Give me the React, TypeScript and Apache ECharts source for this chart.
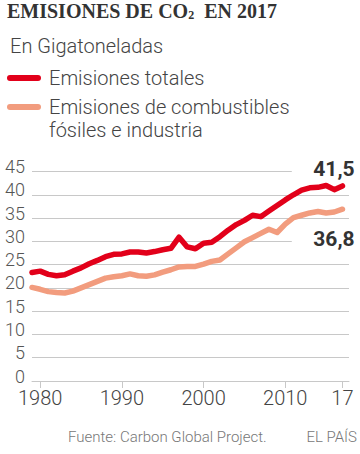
import React, { useEffect, useRef } from "react";
import * as echarts from "echarts";

const years = [
  1979, 1980, 1981, 1982, 1983, 1984, 1985, 1986, 1987, 1988, 1989, 1990, 1991,
  1992, 1993, 1994, 1995, 1996, 1997, 1998, 1999, 2000, 2001, 2002, 2003, 2004,
  2005, 2006, 2007, 2008, 2009, 2010, 2011, 2012, 2013, 2014, 2015, 2016, 2017,
];

const totalEmissions = [
  23.3, 23.6, 22.9, 22.6, 22.8, 23.6, 24.3, 25.2, 25.9, 26.7, 27.2, 27.3, 27.7,
  27.7, 27.5, 27.8, 28.2, 28.5, 30.9, 28.8, 28.4, 29.6, 29.8, 31.0, 32.4, 33.6,
  34.5, 35.6, 35.3, 36.5, 37.7, 38.9, 40.0, 41.0, 41.5, 41.6, 42.0, 41.1, 41.9,
];

const fossilEmissions = [
  20.1, 19.7, 19.2, 19.0, 18.9, 19.3, 20.0, 20.7, 21.4, 22.1, 22.4, 22.6, 23.0,
  22.6, 22.5, 22.8, 23.4, 23.9, 24.5, 24.6, 24.6, 25.1, 25.7, 26.0, 27.3, 28.6,
  29.9, 30.8, 31.7, 32.6, 31.9, 33.7, 35.1, 35.6, 36.1, 36.4, 36.1, 36.3, 36.9,
];

const xTickValues = [1980, 1990, 2000, 2010, 2017];
const yGridValues = [0, 5, 10, 15, 20, 25, 30, 35, 40, 45];
const shortGridValues = [30, 45];

const titleText = "EMISIONES DE CO";
const titleSub = "2";
const titleRest = "  EN 2017";
const subtitleText = "En Gigatoneladas";
const legendTotal = "Emisiones totales";
const legendFossil1 = "Emisiones de combustibles";
const legendFossil2 = "fósiles e industria";
const totalLabel = "41,5";
const fossilLabel = "36,8";
const sourceText = "Fuente: Carbon Global Project.";
const brandText = "EL PAÍS";

const RED = "#e2001a";
const SALMON = "#f29c7e";
const GRID = "#c8c8c8";
const SANS = "Roboto, 'Noto Sans', sans-serif";

const X_MIN = 1979;
const X_MAX = 2017.8;
const X_SHORT_END = 2010.8;

export default function App() {
  const ref = useRef<HTMLDivElement>(null);

  useEffect(() => {
    if (!ref.current) return;
    const chart = echarts.init(ref.current, null, { renderer: "svg" });

    const gridLines = yGridValues
      .filter((v) => v !== 0)
      .map((v) => [
        { coord: [X_MIN, v] },
        { coord: [shortGridValues.includes(v) ? X_SHORT_END : X_MAX, v] },
      ]);

    const option: any = {
      animation: false,
      backgroundColor: "#ffffff",
      grid: { left: 32, right: 11, top: 171.5, bottom: 73, containLabel: false },
      xAxis: {
        type: "value",
        min: X_MIN,
        max: X_MAX,
        axisLine: { show: true, lineStyle: { color: GRID, width: 1 } },
        axisTick: {
          show: true,
          customValues: xTickValues,
          length: 7,
          lineStyle: { color: GRID, width: 1 },
        },
        axisLabel: {
          customValues: xTickValues,
          formatter: (v: number) => (v === 2017 ? "17" : String(v)),
          fontFamily: SANS,
          fontWeight: 300,
          fontSize: 20,
          color: "#444",
          margin: 7,
        },
        splitLine: { show: false },
      },
      yAxis: {
        type: "value",
        min: 0,
        max: 45,
        interval: 5,
        axisLine: { show: false },
        axisTick: { show: false },
        splitLine: { show: false },
        axisLabel: {
          fontFamily: SANS,
          fontWeight: 300,
          fontSize: 18,
          color: "#555",
          margin: 7,
          verticalAlign: "bottom",
          lineHeight: 10,
        },
      },
      series: [
        {
          name: legendFossil1,
          type: "line",
          z: 3,
          showSymbol: false,
          data: years.map((y, i) => [y, fossilEmissions[i]]),
          lineStyle: { color: SALMON, width: 5.5, cap: "round", join: "round" },
          itemStyle: { color: SALMON },
          endLabel: {
            show: true,
            formatter: fossilLabel,
            distance: 0,
            align: "center",
            verticalAlign: "middle",
            offset: [-8.5, 29.6],
            fontFamily: SANS,
            fontWeight: "bold",
            fontSize: 21,
            color: "#333",
          },
          markLine: {
            silent: true,
            z: 1,
            symbol: "none",
            label: { show: false },
            lineStyle: { color: GRID, width: 1, type: "solid" },
            emphasis: { disabled: true },
            data: gridLines,
          },
        },
        {
          name: legendTotal,
          type: "line",
          z: 4,
          showSymbol: false,
          data: years.map((y, i) => [y, totalEmissions[i]]),
          lineStyle: { color: RED, width: 5.5, cap: "round", join: "round" },
          itemStyle: { color: RED },
          endLabel: {
            show: true,
            formatter: totalLabel,
            distance: 0,
            align: "center",
            verticalAlign: "middle",
            offset: [-8.5, -17],
            fontFamily: SANS,
            fontWeight: "bold",
            fontSize: 21,
            color: "#333",
          },
        },
      ],
      graphic: [
        {
          type: "text",
          left: 7,
          top: 1,
          style: {
            text: `{a|${titleText}}{s|${titleSub}}{a|${titleRest}}`,
            rich: {
              a: {
                fontFamily: "'Liberation Serif', 'DejaVu Serif', serif",
                fontWeight: "bold",
                fontSize: 20,
                lineHeight: 22,
                fill: "#333",
                verticalAlign: "bottom",
              },
              s: {
                fontFamily: "'Liberation Serif', 'DejaVu Serif', serif",
                fontWeight: "bold",
                fontSize: 12,
                lineHeight: 14,
                fill: "#333",
                verticalAlign: "bottom",
              },
            },
          },
        },
        {
          type: "text",
          style: {
            x: 10,
            y: 45.5,
            text: subtitleText,
            font: `300 20px ${SANS}`,
            fill: "#444",
            verticalAlign: "middle",
          },
        },
        {
          type: "line",
          shape: { x1: 10, y1: 78, x2: 38, y2: 78 },
          style: { stroke: RED, lineWidth: 6, lineCap: "round" },
        },
        {
          type: "text",
          style: {
            x: 49,
            y: 78.3,
            text: legendTotal,
            font: `300 20px ${SANS}`,
            fill: "#444",
            verticalAlign: "middle",
          },
        },
        {
          type: "line",
          shape: { x1: 10, y1: 107, x2: 38, y2: 107 },
          style: { stroke: SALMON, lineWidth: 6, lineCap: "round" },
        },
        {
          type: "text",
          style: {
            x: 49,
            y: 107.2,
            text: legendFossil1,
            font: `300 20px ${SANS}`,
            fill: "#444",
            verticalAlign: "middle",
          },
        },
        {
          type: "text",
          style: {
            x: 49,
            y: 129.6,
            text: legendFossil2,
            font: `300 20px ${SANS}`,
            fill: "#444",
            verticalAlign: "middle",
          },
        },
        {
          type: "text",
          style: {
            x: 68,
            y: 436.5,
            text: sourceText,
            font: `300 15px ${SANS}`,
            fill: "#777",
            verticalAlign: "middle",
          },
        },
        {
          type: "text",
          style: {
            x: 357,
            y: 436.5,
            text: brandText,
            font: `300 15px ${SANS}`,
            fill: "#777",
            align: "right",
            verticalAlign: "middle",
          },
        },
      ],
    };

    chart.setOption(option);
    return () => chart.dispose();
  }, []);

  return (
    <div
      ref={ref}
      style={{ position: "absolute", left: 0, top: 0, width: 360, height: 454 }}
    />
  );
}
